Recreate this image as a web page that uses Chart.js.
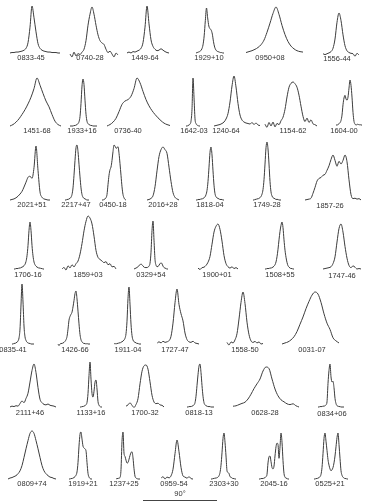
<!DOCTYPE html>
<html><head><meta charset="utf-8">
<script src="https://cdn.jsdelivr.net/npm/chart.js@4/dist/chart.umd.min.js"></script>
<style>
html,body{margin:0;padding:0;background:#fff;width:365px;height:503px;overflow:hidden;position:relative}
canvas{position:absolute}
.lbl{position:absolute;font:7.5px "Liberation Sans",Arial,sans-serif;color:#333;white-space:nowrap;transform:translate(-50%,-50%);line-height:1}
#bar{position:absolute;height:1px;background:#444}
</style></head><body>
<script>
// pulsar names (label under each profile)
const names = [
 "0833-45","0740-28","1449-64","1929+10","0950+08","1556-44",
 "1451-68","1933+16","0736-40","1642-03","1240-64","1154-62","1604-00",
 "2021+51","2217+47","0450-18","2016+28","1818-04","1749-28","1857-26",
 "1706-16","1859+03","0329+54","1900+01","1508+55","1747-46",
 "0835-41","1426-66","1911-04","1727-47","1558-50","0031-07",
 "2111+46","1133+16","1700-32","0818-13","0628-28","0834+06",
 "0809+74","1919+21","1237+25","0959-54","2303+30","2045-16","0525+21"
];
// intensity profiles (% of peak), uniformly sampled in pulse longitude
const p0833m45=[0,1,1,2,2,3,4,6,10,22,55,100,75,45,20,10,6,4,3,2,2,1,1,1,0,0];
const p0740m28=[2,-4,6,-2,3,1,6,12,30,62,85,100,85,62,42,30,25,22,12,5,8,2,-4,4,0];
const p1449m64=[0,2,0,3,2,4,6,10,22,55,100,62,28,14,8,5,6,9,6,3,1,0];
const p1929p10=[0,1,2,3,5,9,18,38,72,100,78,60,54,51,42,25,13,7,4,3,2,1,1,0,0];
const p0950p08=[1,3,5,8,12,18,28,45,65,86,100,84,60,40,25,15,9,5,3,2];
const p1556m44=[3,1,3,5,8,16,38,78,100,82,48,22,10,6,4,3,-3,4,0];
const p1451m68=[0,3,8,15,24,34,46,60,78,100,85,68,52,40,24,10,3,0];
const p1933p16=[0,0,0,0,1,1,2,3,5,9,20,48,85,100,88,55,25,10,5,3,2,1,1,0,0,0,0,0];
const p0736m40=[0,3,8,16,30,45,52,55,62,78,100,90,72,55,42,32,24,17,11,6,3,1];
const p1642m03=[0,0,1,2,4,10,35,100,60,15,5,2,1,0,0];
const p1240m64=[0,1,2,3,5,8,14,25,48,80,100,78,45,22,12,8,6,5,4,7,3,6,2,1];
const p1154m62=[4,-3,8,0,9,-2,6,3,12,20,38,66,88,97,100,96,88,70,45,22,10,18,8,14,5,3,0];
const p1604m00=[0,0,1,3,5,10,22,45,60,66,58,55,62,82,100,88,62,28,8,2,0,1,2,0,1,0,0];
const p2021p51=[0,1,2,4,7,11,16,24,33,42,44,40,60,100,55,15,5,2,1,0,0];
const p2217p47=[0,0,1,1,2,3,5,10,22,45,72,95,100,88,65,42,22,10,5,3,2,1,0,0,0];
const p0450m18=[0,0,1,2,4,10,28,45,55,60,72,88,100,98,94,95,97,85,66,45,24,10,4,1,0];
const p2016p28=[0,1,3,8,25,55,82,95,100,95,88,62,35,14,5,2,0];
const p1818m04=[0,0,1,1,1,2,2,3,4,6,10,18,35,62,90,100,85,55,28,12,6,4,3,2,1,1,1,0,0];
const p1749m28=[0,0,1,1,2,2,3,4,6,10,18,35,62,90,100,88,62,32,14,7,4,3,2,1,1,1,0,0,0];
const p1857m26=[0,1,2,4,15,28,42,48,50,55,57,66,76,90,100,88,75,86,80,88,100,85,45,12,3,4,2,3,0];
const p1706m16=[0,0,1,1,1,2,2,3,4,5,7,10,16,28,50,82,100,82,50,28,15,9,6,4,3,2,2,1,1,0,0];
const p1859p03=[0,3,-2,6,2,8,4,10,15,28,48,72,90,100,96,85,62,35,22,18,15,12,14,8,10,4,5,0];
const p0329p54=[0,1,2,3,5,7,9,10,9,6,4,3,3,3,4,6,12,35,80,100,60,20,8,5,5,8,11,13,11,6,3,2,1,0,0];
const p1900p01=[2,-1,3,4,8,15,28,55,82,95,100,88,62,30,12,5,2,5,1,3,0];
const p1508p55=[0,0,1,1,1,2,2,3,4,6,9,15,26,42,62,80,93,100,88,62,40,25,14,7,4,2,1,1,0,0];
const p1747m46=[0,1,2,3,5,12,27,60,90,100,82,50,24,8,3,7,4,0,1,0];
const p0835m41=[0,0,1,1,2,3,5,10,25,65,100,70,30,12,6,3,2,1,1,0,0,0,0];
const p1426m66=[0,-3,0,1,1,2,3,5,8,14,28,45,52,56,60,70,82,95,100,85,62,38,18,8,4,2,1,1,0,1,0,0,0];
const p1911m04=[0,1,0,1,1,2,2,3,4,5,7,10,18,40,80,100,70,35,15,7,4,3,2,1,1,0,0,0];
const p1727m47=[1,4,2,5,3,4,6,14,38,75,100,72,55,42,20,8,4,3,5,2,1,0];
const p1558m50=[3,-2,4,2,8,20,48,80,100,78,42,18,6,3,5,2,4,0,1];
const p0031m07=[0,2,4,8,14,24,38,52,68,82,94,100,96,80,58,40,28,12,6,2];
const p2111p46=[0,2,1,3,2,8,14,10,20,32,58,85,100,80,45,18,10,6,5,7,4,3,2,0];
const p1133p16=[0,0,1,1,2,3,5,10,30,70,100,62,30,22,35,55,60,40,12,4,1,0,0];
const p1700m32=[2,5,10,4,-1,6,20,55,85,98,100,90,60,28,12,8,9,5,4,0];
const p0818m13=[0,0,1,1,1,2,3,5,10,25,50,75,95,100,80,50,25,10,5,3,2,1,1,1,0,0,0,0];
const p0628m28=[2,3,6,9,12,20,32,46,58,70,90,100,96,70,45,28,18,13,8,6,8,3,0];
const p0834p06=[0,0,1,1,1,2,2,3,5,12,55,85,100,70,58,60,45,20,8,3,2,1,1,0,0,0,0];
const p0809p74=[0,2,3,5,7,11,17,28,45,63,80,95,100,95,80,63,45,28,17,11,7,4,3,1,0];
const p1919p21=[0,0,1,1,2,3,5,8,15,35,70,95,100,85,70,66,64,60,35,12,4,1,0,0];
const p1237p25=[0,1,1,2,3,20,80,100,55,48,40,34,35,42,50,56,58,45,22,6,2,1,0,0,0];
const p0959m54=[2,6,0,5,3,8,25,65,100,70,30,8,5,2,6,1,0];
const p2303p30=[0,0,1,1,2,2,3,4,7,14,30,57,88,100,80,50,18,14,12,5,4,2,1,1,0,0];
const p2045m16=[0,0,1,1,1,2,3,5,10,35,48,50,38,25,22,28,50,70,78,75,45,70,100,80,40,12,4,2,1,0,0];
const p0525p21=[0,0,1,1,2,3,5,10,25,55,88,100,82,62,42,30,22,18,20,25,35,50,70,90,100,75,45,18,8,4,2,1,1,0,0];

const series=[p0833m45,p0740m28,p1449m64,p1929p10,p0950p08,p1556m44,
 p1451m68,p1933p16,p0736m40,p1642m03,p1240m64,p1154m62,p1604m00,
 p2021p51,p2217p47,p0450m18,p2016p28,p1818m04,p1749m28,p1857m26,
 p1706m16,p1859p03,p0329p54,p1900p01,p1508p55,p1747m46,
 p0835m41,p1426m66,p1911m04,p1727m47,p1558m50,p0031m07,
 p2111p46,p1133p16,p1700m32,p0818m13,p0628m28,p0834p06,
 p0809p74,p1919p21,p1237p25,p0959m54,p2303p30,p2045m16,p0525p21];

const scaleBarLabel = "90°";

// page layout (pixels): [left, right, peak-top, baseline, labelX, labelY]
const layout=[
 [10,60,6,53,31,58],[70,118,7,55,90,58],[127,169,6,53,145,58],[196,224,8,53,209,58],[246,303,7,53,270,58],[323,359,13,55,337,59],
 [10,61,78,126,37,131],[70,97,79,126,82,131],[107,170,78,126,128,131],[186,200,78,126,194,131],[214,260,76,126,226,131],[265,317,82,126,293,131],[336,362,80,125,344,131],
 [10,50,146,200,32,205],[65,89,145,200,76,205],[102,126,145,200,113,205],[147,179,147,200,163,205],[196,224,147,200,210,205],[253,281,142,200,267,205],[305,361,155,200,330,206],
 [14,44,222,269,28,275],[62,116,216,269,88,275],[134,168,221,269,151,275],[198,238,224,269,217,275],[265,294,222,269,280,275],[323,361,224,269,342,276],
 [12,34,284,344,13,350],[58,90,291,344,75,350],[114,141,287,344,128,350],[157,199,289,344,175,350],[227,263,292,344,245,350],[282,339,292,344,312,350],
 [10,56,364,407,30,413],[80,102,362,407,91,413],[126,164,365,407,145,413],[187,214,364,407,199,413],[233,299,367,407,265,413],[318,344,364,407,332,414],
 [8,56,431,479,32,484],[69,92,432,479,83,484],[116,140,432,479,124,484],[161,193,440,479,174,484],[211,236,433,479,224,484],[259,289,433,479,274,484],[314,348,433,479,330,484]
];
const bar=[143,217,500,180,494];

const M=3;
series.forEach((v,i)=>{
  const [x0,x1,top,base,lx,ly]=layout[i];
  const w=x1-x0,h=base-top,n=v.length-1;
  const cv=document.createElement('canvas');
  cv.width=w+2*M; cv.height=h+2*M;
  cv.style.left=(x0-M)+'px'; cv.style.top=(top-M)+'px';
  cv.style.width=cv.width+'px'; cv.style.height=cv.height+'px';
  document.body.appendChild(cv);
  new Chart(cv,{type:'line',
    data:{datasets:[{data:v.map((y,k)=>({x:k,y:y})),borderColor:'#3c3c3c',borderWidth:1,pointRadius:0,
      cubicInterpolationMode:'monotone',fill:false}]},
    options:{responsive:false,animation:false,events:[],devicePixelRatio:1,layout:{padding:0},
      plugins:{legend:{display:false},tooltip:{enabled:false},title:{display:false}},
      scales:{x:{type:'linear',display:false,min:-M*n/w,max:n+M*n/w},
              y:{type:'linear',display:false,min:-M*100/h,max:100+M*100/h}}}});
  const d=document.createElement('div');
  d.className='lbl'; d.textContent=names[i];
  d.style.left=lx+'px'; d.style.top=ly+'px';
  document.body.appendChild(d);
});
const b=document.createElement('div'); b.id='bar';
b.style.left=bar[0]+'px'; b.style.width=(bar[1]-bar[0])+'px'; b.style.top=bar[2]+'px';
document.body.appendChild(b);
const bl=document.createElement('div'); bl.className='lbl'; bl.textContent=scaleBarLabel;
bl.style.left=bar[3]+'px'; bl.style.top=bar[4]+'px';
document.body.appendChild(bl);
</script>
</body></html>
